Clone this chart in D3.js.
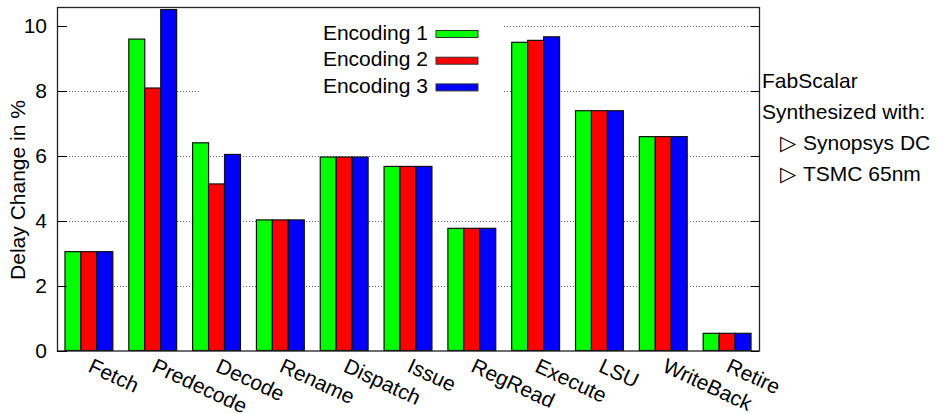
<!DOCTYPE html>
<html>
<head>
<meta charset="utf-8">
<script src="https://cdn.jsdelivr.net/npm/d3@7"></script>
<style>
  body { margin: 0; background: #fff; }
  text { font-family: "Liberation Sans", Arial, Helvetica, sans-serif; font-size: 21px; fill: #000; }
  .sym { font-family: "DejaVu Sans", sans-serif; }
</style>
</head>
<body>
<div id="chart"></div>
<script>
// data
var stages = ["Fetch", "Predecode", "Decode", "Rename", "Dispatch", "Issue",
              "RegRead", "Execute", "LSU", "WriteBack", "Retire"];
var seriesNames = ["Encoding 1", "Encoding 2", "Encoding 3"];
var enc1 = [3.05, 9.61, 6.41, 4.03, 5.97, 5.68, 3.77, 9.51, 7.40, 6.60, 0.53];
var enc2 = [3.05, 8.10, 5.14, 4.03, 5.97, 5.68, 3.77, 9.57, 7.40, 6.60, 0.53];
var enc3 = [3.05, 10.52, 6.05, 4.03, 5.97, 5.68, 3.77, 9.68, 7.40, 6.60, 0.53];
var yTicks = [0, 2, 4, 6, 8, 10];
var yTitle = "Delay Change in %";
var noteLines = ["FabScalar", "Synthesized with:"];
var noteItems = ["Synopsys DC", "TSMC 65nm"];

var width = 939, height = 414;
var margin = {top: 7, right: 180, bottom: 63.5, left: 57};
var colors = ["#00ff00", "#ff0000", "#0000ff"];

var svg = d3.select("#chart").append("svg")
    .attr("width", width)
    .attr("height", height);

var x = d3.scaleBand()
    .domain(stages)
    .range([margin.left, width - margin.right])
    .paddingInner(0.25)
    .paddingOuter(0.125);
var xs = d3.scaleBand()
    .domain(seriesNames)
    .range([0, x.bandwidth()]);
var y = d3.scaleLinear()
    .domain([0, 10.6])
    .range([height - margin.bottom, margin.top]);

var x0 = margin.left, x1 = width - margin.right;

function putText(g, px, py, rot, str, anchor) {
  return g.append("text")
      .attr("transform", "translate(" + px + "," + py + ") rotate(" + rot + ")")
      .attr("text-anchor", anchor || "start")
      .text(str);
}

// grid lines
svg.append("g").attr("class", "grid")
    .selectAll("line").data(yTicks.filter(function (d) { return d > 0; }))
    .enter().append("line")
    .attr("x1", x0).attr("x2", x1)
    .attr("y1", function (d) { return Math.round(y(d)) + 0.5; })
    .attr("y2", function (d) { return Math.round(y(d)) + 0.5; })
    .attr("stroke", "#666")
    .attr("stroke-width", 1)
    .attr("stroke-dasharray", "1,2");

// key background hides the grid behind it
svg.append("rect").attr("x", 201).attr("y", margin.top + 1)
    .attr("width", 302).attr("height", 95).attr("fill", "#fff");
svg.append("rect").attr("x", x0 + 1).attr("y", margin.top + 1)
    .attr("width", 445).attr("height", 24).attr("fill", "#fff");

// bars
var rows = stages.map(function (s, i) {
  return {stage: s, values: [enc1[i], enc2[i], enc3[i]]};
});
var groups = svg.append("g").selectAll("g.stage").data(rows)
    .enter().append("g")
    .attr("class", "stage")
    .attr("transform", function (d) { return "translate(" + x(d.stage) + ",0)"; });
groups.selectAll("rect")
    .data(function (d) {
      return d.values.map(function (v, j) { return {name: seriesNames[j], value: v, k: j}; });
    })
    .enter().append("rect")
    .attr("x", function (d) { return xs(d.name); })
    .attr("width", xs.bandwidth())
    .attr("y", function (d) { return y(d.value); })
    .attr("height", function (d) { return y(0) - y(d.value); })
    .attr("fill", function (d) { return colors[d.k]; })
    .attr("stroke", "#111")
    .attr("stroke-width", 1.2);

// frame and ticks
svg.append("rect")
    .attr("x", x0 + 0.5).attr("y", margin.top + 0.5)
    .attr("width", x1 - x0).attr("height", y(0) - margin.top)
    .attr("fill", "none").attr("stroke", "#222").attr("stroke-width", 1.3);
var ticks = svg.append("g").attr("class", "ticks");
ticks.selectAll("line.l").data(yTicks).enter().append("line")
    .attr("x1", x0).attr("x2", x0 + 10)
    .attr("y1", function (d) { return Math.round(y(d)) + 0.5; })
    .attr("y2", function (d) { return Math.round(y(d)) + 0.5; })
    .attr("stroke", "#000");
ticks.selectAll("line.r").data(yTicks).enter().append("line")
    .attr("x1", x1 - 8).attr("x2", x1)
    .attr("y1", function (d) { return Math.round(y(d)) + 0.5; })
    .attr("y2", function (d) { return Math.round(y(d)) + 0.5; })
    .attr("stroke", "#000");

// y tick labels and title
var labels = svg.append("g");
yTicks.forEach(function (d) {
  putText(labels, 47, y(d) + 7, 0, d, "end");
});
putText(labels, 25, 190, -90, yTitle, "middle");

// x labels, slanted
stages.forEach(function (s) {
  putText(labels, x(s) + x.bandwidth() / 2 - 2, 371, 25, s, "start");
});

// key
var key = svg.append("g");
seriesNames.forEach(function (n, i) {
  var by = 39.5 + i * 26.7;
  putText(key, 428, by, 0, n, "end");
  key.append("rect")
      .attr("x", 436).attr("y", by - 9)
      .attr("width", 42).attr("height", 7)
      .attr("fill", colors[i])
      .attr("stroke", "#333").attr("stroke-width", 1);
});

// note at the right
var note = svg.append("g");
putText(note, 762, 88, 0, noteLines[0]);
putText(note, 762, 118.5, 0, noteLines[1]);
noteItems.forEach(function (t, i) {
  var by = 150 + i * 31;
  note.append("text").attr("class", "sym")
      .attr("x", 780).attr("y", by)
      .attr("font-size", "18px")
      .text("\u25B7");
  putText(note, 803, by, 0, t);
});
</script>
</body>
</html>
